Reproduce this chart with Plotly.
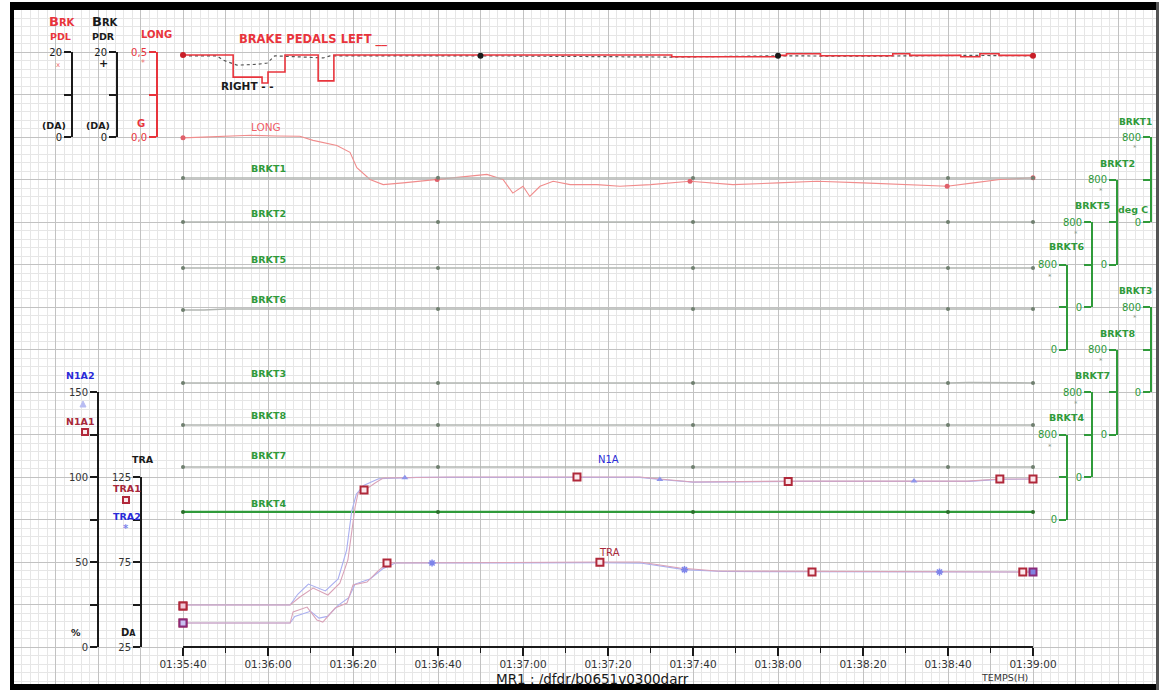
import plotly.graph_objects as go

W, H = 1162, 692

# ---------------- data ----------------
tick_seconds = [0, 20, 40, 60, 80, 100, 120, 140, 160, 180, 200]
time_labels = ["01:35:40", "01:36:00", "01:36:20", "01:36:40", "01:37:00", "01:37:20",
               "01:37:40", "01:38:00", "01:38:20", "01:38:40", "01:39:00"]

# brake pedal left (DA) - step trace
pdl_t = [0, 11.8, 18.6, 20.0, 24.0, 31.8, 35.5, 70, 115, 140, 142, 150, 167, 171, 183, 187.5, 192, 200]
pdl_v = [19.3, 14.1, 12.7, 15.3, 19.3, 13.2, 19.3, 19.3, 18.9, 19.2, 19.6, 19.1, 19.6, 19.2, 18.9, 19.6, 19.2, 19.1]
pdl_marker_t = [0, 200]
pdl_marker_v = [19.3, 19.1]

# brake pedal right (DA)
pdr_t = [0, 8, 9.4, 12.7, 17.4, 19.8, 21.6, 33, 34.6, 70, 115, 140, 160, 185, 200]
pdr_v = [19.1, 19.1, 18.1, 16.9, 17.1, 17.4, 19.1, 18.6, 19.1, 19.1, 18.8, 19.1, 19.0, 19.2, 19.1]
pdr_marker_t = [70, 140]
pdr_marker_v = [19.1, 19.1]

# longitudinal acceleration (G)
long_t = [0, 5, 11.1, 16, 22, 27.5, 30.6, 36.2, 39.3, 40.9, 44.0, 47.1, 51.8, 59.8, 67.5, 71.5,
          75.3, 77.6, 80.0, 81.6, 84.0, 87.1, 91.1, 97.4, 102.8, 110, 119.3, 129.4, 140, 149.2,
          160, 168.7, 179.8, 186, 192.2, 200]
long_v = [-0.005, 0.0, 0.006, 0.01, 0.006, 0.004, -0.02, -0.05, -0.09, -0.18, -0.25, -0.28, -0.27,
          -0.25, -0.23, -0.22, -0.25, -0.33, -0.29, -0.35, -0.29, -0.26, -0.28, -0.28, -0.29,
          -0.28, -0.26, -0.28, -0.27, -0.26, -0.27, -0.28, -0.29, -0.27, -0.25, -0.24]
long_marker_t = [0, 59.8, 119.3, 179.8, 200]
long_marker_v = [-0.005, -0.25, -0.26, -0.29, -0.24]

# brake temperatures (deg C)
brkt1_t = [0, 40, 60, 100, 120, 160, 180, 200]
brkt1_v = [414, 414, 416, 414, 414, 413, 414, 414]
brkt2_t = [0, 60, 65, 80, 85, 120, 180, 200]
brkt2_v = [400, 400, 396, 396, 400, 400, 400, 400]
brkt5_t = [0, 60, 64, 95, 100, 120, 180, 195, 200]
brkt5_v = [367, 367, 362, 362, 367, 367, 367, 362, 367]
brkt6_t = [0, 5, 10, 60, 120, 150, 180, 200]
brkt6_v = [372, 372, 381, 381, 381, 378, 381, 381]
brkt3_t = [0, 60, 80, 110, 120, 180, 185, 195, 200]
brkt3_v = [85, 85, 78, 78, 85, 85, 88, 85, 85]
brkt8_t = [0, 60, 70, 90, 120, 180, 200]
brkt8_v = [89, 89, 84, 84, 89, 89, 89]
brkt7_t = [0, 60, 120, 180, 200]
brkt7_v = [94, 94, 94, 94, 94]
brkt4_t = [0, 60, 120, 180, 200]
brkt4_v = [71, 71, 71, 71, 71]
brkt_marker_t = [0, 60, 120, 180, 200]

# engine N1 (%)
n1a1_t = [0, 25.2, 27.5, 30.6, 34.1, 36.9, 38.8, 40.0, 40.5, 41.2, 42.8, 45.2, 47.1, 62.8,
          107.5, 112.2, 120, 145.2, 184.5, 192.2, 200]
n1a1_v = [24.7, 24.7, 29.4, 34.7, 30.6, 37.6, 51.2, 74.7, 82.4, 90.6, 92.4, 96.5, 99.4, 100,
          100, 98.8, 97.1, 97.6, 97.6, 98.8, 98.8]
n1a2_t = [0, 25.2, 27.0, 29.5, 33.5, 36.5, 38.5, 39.7, 40.8, 42.5, 46, 55, 107.5, 112.2, 120,
          145, 185, 192, 200]
n1a2_v = [24.7, 24.7, 31, 37, 33, 40, 57, 80, 90, 95, 99, 99.8, 99.8, 98.5, 97.0, 97.4, 97.4,
          98.6, 98.8]
n1a1_marker_t = [0, 42.6, 92.7, 142.4, 192.2, 200]
n1a1_marker_v = [24.1, 92.4, 100, 97.4, 98.8, 98.8]
n1a2_marker_t = [52.2, 112.2, 172]
n1a2_marker_v = [99.6, 98.6, 97.6]

# throttle resolver angle (DA)
tra1_t = [0, 25.2, 25.9, 29.2, 31.5, 32.9, 35.8, 38.6, 40.0, 43.3, 45.6, 48.0, 98.1, 107.5,
          116.9, 125.6, 200]
tra1_v = [39.1, 39.1, 45.6, 48.5, 40.9, 39.7, 47.9, 50.9, 61.5, 63.2, 69.1, 74.4, 75.0, 75.0,
          71.5, 69.7, 69.1]
tra2_t = [0, 25.2, 26.3, 30, 32, 34, 36.5, 39, 40.5, 44, 47, 50, 98, 108, 118, 127, 200]
tra2_v = [39.1, 39.1, 43, 46, 42, 43, 49.5, 54, 62, 65, 71, 74.4, 74.6, 74.3, 70.5, 69.4, 69.1]
tra1_marker_t = [0, 48, 98.1, 148, 197.6]
tra1_marker_v = [39.1, 74.4, 74.9, 69.1, 69.1]
tra2_marker_t = [58.6, 118, 178, 200]
tra2_marker_v = [74.4, 70.5, 69.1, 69.1]

# ---------------- styling helpers ----------------
FONT = "DejaVu Sans"
RED = "#e8343c"
DARKRED = "#a8283a"
GREEN = "#2f9a3a"
BLUE = "#2a2ad8"
BLACK = "#1a1a1a"
TEXT = "#333333"
GRAYLINE = "#b2b6b2"
PINK = "#d9a3b8"
LBLUE = "#a9aef0"

X0, X1 = 183.0, 1033.0   # pixel columns of 01:35:40 and 01:39:00
PX_PER_S = (X1 - X0) / 200.0


def fx(p):
    return p / W


def fy(p):
    return 1 - p / H


def yrange(v_a, p_a, v_b, p_b):
    k = (p_a - p_b) / (v_b - v_a)
    return [v_a - (H - p_a) / k, v_a + p_a / k]


fig = go.Figure()
layout = {}

# background grid subplot (x, y) spanning the whole page
layout["xaxis"] = dict(domain=[0, 1], range=[(0 - X0) / PX_PER_S, (W - X0) / PX_PER_S],
                       showgrid=True, gridcolor="#c2c2c2", gridwidth=1, dtick=10, tick0=0,
                       showticklabels=False, zeroline=False, ticks="", showline=False,
                       minor=dict(dtick=2, tick0=0, showgrid=True, gridcolor="#e6e6e6", gridwidth=1),
                       anchor="y", fixedrange=True, automargin=False)
layout["yaxis"] = dict(domain=[0, 1], range=[H, 0], showgrid=True, gridcolor="#c2c2c2",
                       gridwidth=1, dtick=42.5, tick0=647, showticklabels=False, zeroline=False,
                       ticks="", showline=False,
                       minor=dict(dtick=8.5, tick0=647, showgrid=True, gridcolor="#e6e6e6", gridwidth=1),
                       anchor="x", fixedrange=True, automargin=False)
fig.add_trace(go.Scatter(x=[None], y=[None], xaxis="x", yaxis="y", showlegend=False,
                         hoverinfo="skip"))

# time axis
layout["xaxis2"] = dict(domain=[fx(X0), fx(X1)], range=[0, 200], anchor="free",
                        position=fy(647), showline=True, linecolor=BLACK, linewidth=1.5,
                        ticks="outside", ticklen=8, tickwidth=1.5, tickcolor=BLACK,
                        tickvals=tick_seconds, ticktext=time_labels, showgrid=False,
                        zeroline=False, tickfont=dict(family=FONT, size=10.5, color=TEXT),
                        minor=dict(ticks="outside", dtick=10, tick0=0, ticklen=5, tickwidth=1.2,
                                   tickcolor=BLACK, showgrid=False),
                        fixedrange=True, automargin=False)

# ---- data axes (invisible, full height) ----
data_axes = {
    "pdl": (0, 137, 20, 52),
    "long": (0, 137, 0.5, 52),
    "brkt1": (0, 222, 800, 137),
    "brkt2": (0, 264.5, 800, 179.5),
    "brkt5": (0, 307, 800, 222),
    "brkt6": (0, 349.5, 800, 264.5),
    "brkt3": (0, 392, 800, 307),
    "brkt8": (0, 434.5, 800, 349.5),
    "brkt7": (0, 477, 800, 392),
    "brkt4": (0, 519.5, 800, 434.5),
    "n1a": (0, 647, 150, 392),
    "tra": (25, 647, 125, 477),
}
axis_id = {}
n = 2
for key, (va, pa, vb, pb) in data_axes.items():
    axis_id[key] = "y%d" % n
    layout["yaxis%d" % n] = dict(domain=[0, 1], range=yrange(va, pa, vb, pb), anchor="x2",
                                 visible=False, fixedrange=True, automargin=False)
    n += 1

# ---- displayed bracket axes ----
disp_axes = [
    # (line x px, px of low, px of high, low, high, tickvals, ticktext, line colour, font colour)
    (72, 137, 52, 0, 20, [0, 10, 20], ["0", "", "20"], BLACK, BLACK),
    (117, 137, 52, 0, 20, [0, 10, 20], ["0", "", "20"], BLACK, BLACK),
    (157, 137, 52, 0, 0.5, [0, 0.25, 0.5], ["0,0", "", "0,5"], RED, RED),
    (98, 647, 392, 0, 150, [0, 25, 50, 75, 100, 125, 150], ["0", "", "50", "", "100", "", "150"], BLACK, TEXT),
    (141, 647, 477, 25, 125, [25, 50, 75, 100, 125], ["25", "", "75", "", "125"], BLACK, TEXT),
    (1067, 349.5, 264.5, 0, 800, [0, 400, 800], ["0", "", "800"], GREEN, GREEN),
    (1092, 307, 222, 0, 800, [0, 400, 800], ["0", "", "800"], GREEN, GREEN),
    (1117, 264.5, 179.5, 0, 800, [0, 400, 800], ["0", "", "800"], GREEN, GREEN),
    (1151, 222, 137, 0, 800, [0, 400, 800], ["0", "", "800"], GREEN, GREEN),
    (1067, 519.5, 434.5, 0, 800, [0, 400, 800], ["0", "", "800"], GREEN, GREEN),
    (1092, 477, 392, 0, 800, [0, 400, 800], ["0", "", "800"], GREEN, GREEN),
    (1117, 434.5, 349.5, 0, 800, [0, 400, 800], ["0", "", "800"], GREEN, GREEN),
    (1151, 392, 307, 0, 800, [0, 400, 800], ["0", "", "800"], GREEN, GREEN),
]
for (lx, plo, phi, vlo, vhi, tv, tt, lc, fc) in disp_axes:
    layout["yaxis%d" % n] = dict(domain=[fy(plo), fy(phi)], range=[vlo, vhi], anchor="free",
                                 position=fx(lx), side="left", showline=True, linecolor=lc,
                                 linewidth=2, ticks="outside", ticklen=7, tickwidth=2,
                                 tickcolor=lc, tickvals=tv, ticktext=tt, showgrid=False,
                                 zeroline=False, tickfont=dict(family=FONT, size=10, color=fc),
                                 fixedrange=True, automargin=False)
    fig.add_trace(go.Scatter(x=[None], y=[None], xaxis="x2", yaxis="y%d" % n,
                             showlegend=False, hoverinfo="skip"))
    n += 1


def add_line(t, v, key, color, width, dash="solid", shape="linear"):
    fig.add_trace(go.Scatter(x=t, y=v, xaxis="x2", yaxis=axis_id[key], mode="lines",
                             line=dict(color=color, width=width, dash=dash, shape=shape),
                             showlegend=False, hoverinfo="skip"))


def add_markers(t, v, key, color, size, symbol="circle", line_color=None, line_width=0):
    fig.add_trace(go.Scatter(x=t, y=v, xaxis="x2", yaxis=axis_id[key], mode="markers",
                             marker=dict(color=color, size=size, symbol=symbol,
                                         line=dict(color=line_color or color, width=line_width)),
                             cliponaxis=False, showlegend=False, hoverinfo="skip"))


# temperatures
brkt_series = [
    (brkt1_t, brkt1_v, "brkt1"), (brkt2_t, brkt2_v, "brkt2"), (brkt5_t, brkt5_v, "brkt5"),
    (brkt6_t, brkt6_v, "brkt6"), (brkt3_t, brkt3_v, "brkt3"), (brkt8_t, brkt8_v, "brkt8"),
    (brkt7_t, brkt7_v, "brkt7"),
]
for t, v, key in brkt_series:
    add_line(t, v, key, GRAYLINE, 1.6)
    mt = [x for x in t if x in brkt_marker_t]
    mv = [v[t.index(x)] for x in mt]
    add_markers(mt, mv, key, "#6f7f6f", 4)
add_line(brkt4_t, brkt4_v, "brkt4", GREEN, 2.2)
add_markers(brkt4_t, brkt4_v, "brkt4", "#2b6e2b", 4)

# longitudinal acceleration
add_line(long_t, long_v, "long", "#f08c8c", 1.1)
add_markers(long_marker_t, long_marker_v, "long", "#e0606a", 5)

# brake pedals
add_line(pdr_t, pdr_v, "pdl", "#555555", 1.2, dash="dot")
add_line(pdl_t, pdl_v, "pdl", RED, 1.6, shape="hv")
add_markers(pdl_marker_t, pdl_marker_v, "pdl", "#c81e28", 6)
add_markers(pdr_marker_t, pdr_marker_v, "pdl", BLACK, 6)

# N1 and TRA
add_line(n1a2_t, n1a2_v, "n1a", LBLUE, 1.1)
add_line(n1a1_t, n1a1_v, "n1a", PINK, 1.1)
add_line(tra2_t, tra2_v, "tra", LBLUE, 1.1)
add_line(tra1_t, tra1_v, "tra", PINK, 1.1)
add_markers(n1a2_marker_t, n1a2_marker_v, "n1a", "#8f95ea", 6, symbol="triangle-up")
add_markers(tra2_marker_t, tra2_marker_v, "tra", "#7d84ea", 6, symbol="asterisk-open",
            line_color="#7d84ea", line_width=1.5)
add_markers(n1a1_marker_t, n1a1_marker_v, "n1a", "#fbe8ec", 7, symbol="square",
            line_color="#b0283a", line_width=2)
add_markers(tra1_marker_t, tra1_marker_v, "tra", "#fbe8ec", 7, symbol="square",
            line_color="#b0283a", line_width=2)
add_markers([0], [39.1], "tra", "#c8c0f0", 7, symbol="square", line_color="#8a2a7a", line_width=2)
add_markers([0], [24.1], "n1a", "#f0c8d8", 7, symbol="square", line_color="#b0283a", line_width=2)
add_markers([200], [69.1], "tra", "#8080e0", 7, symbol="square", line_color="#8a2a7a", line_width=2)

# ---------------- text ----------------
ann = []


def txt(s, px, py, color=TEXT, size=10, xanchor="left", bold=False, family=FONT):
    if bold:
        s = "<b>%s</b>" % s
    ann.append(dict(text=s, x=fx(px), y=fy(py), xref="paper", yref="paper", xanchor=xanchor,
                    yanchor="middle", showarrow=False,
                    font=dict(color=color, size=size, family=family)))


# in-plot labels
txt("BRAKE PEDALS LEFT __", 237, 40, RED, 11.5, bold=True)
txt("RIGHT - -", 219, 86, BLACK, 10.5, bold=True)
txt("LONG", 249, 127, "#f06068", 10.5)
for lab, py in [("BRKT1", 168), ("BRKT2", 213), ("BRKT5", 259), ("BRKT6", 300),
                ("BRKT3", 373), ("BRKT8", 415), ("BRKT7", 455), ("BRKT4", 503)]:
    txt(lab, 249, py, GREEN, 9.5, bold=True)
txt("N1A", 596, 459, BLUE, 10)
txt("TRA", 597, 552, DARKRED, 10)

# left headers
big_b = "<span style='font-size:13px'>B</span>RK"
txt(big_b, 47, 22, RED, 10, bold=True)
txt("PDL", 48, 36, RED, 9.5, bold=True)
txt(big_b, 90, 22, BLACK, 10, bold=True)
txt("PDR", 90, 36, BLACK, 9.5, bold=True)
txt("LONG", 139, 35, RED, 10, bold=True)
txt("(DA)", 40, 125, BLACK, 9.5, bold=True)
txt("(DA)", 84, 125, BLACK, 9.5, bold=True)
txt("G", 141, 124, RED, 10, xanchor="center", bold=True)
txt("x", 58, 65, "#f07070", 7, xanchor="center")
txt("+", 103, 64, BLACK, 11, xanchor="center", bold=True)
txt("*", 143, 63, "#f07070", 8, xanchor="center")

txt("N1A2", 64, 375, BLUE, 9.5, bold=True)
txt("N1A1", 64, 421, DARKRED, 9.5, bold=True)
txt("TRA", 130, 459, BLACK, 9.5, bold=True)
txt("TRA1", 111, 488, DARKRED, 9.5, bold=True)
txt("TRA2", 111, 516, BLUE, 9.5, bold=True)
txt("*", 126, 528, "#7d84ea", 10, xanchor="center", bold=True)
txt("%", 76, 632, BLACK, 9.5, xanchor="center", bold=True)
txt("D<span style='font-size:8px'>A</span>", 128, 632, BLACK, 10, xanchor="center", bold=True)

# right headers
for lab, px, py in [("BRKT6", 1047, 247), ("BRKT5", 1073, 206), ("BRKT2", 1098, 163),
                    ("BRKT4", 1047, 417), ("BRKT7", 1073, 376), ("BRKT8", 1098, 333)]:
    txt(lab, px, py, GREEN, 9.5, bold=True)
txt("BRKT1", 1154, 122, GREEN, 9, xanchor="right", bold=True)
txt("BRKT3", 1154, 291, GREEN, 9, xanchor="right", bold=True)
txt("deg C", 1116, 209, GREEN, 9.5, bold=True)
for px, py in [(1050, 277), (1076, 234), (1101, 191), (1135, 148),
               (1050, 447), (1076, 404), (1101, 361), (1135, 318)]:
    txt("*", px, py, "#8a9a8a", 7, xanchor="center")

# bottom texts
txt("MR1 : /dfdr/b0651v0300darr", 691, 679, BLACK, 13.5, xanchor="right")
txt("TEMPS(H)", 1004, 677, TEXT, 9.5, xanchor="center")

# ---------------- shapes (legend glyphs + frame) ----------------
shapes = []


def rect_px(x0, y0, x1, y1, fill, line_color=None, line_width=0, layer="above"):
    shapes.append(dict(type="rect", xref="paper", yref="paper", x0=fx(x0), x1=fx(x1),
                       y0=fy(y1), y1=fy(y0), fillcolor=fill, layer=layer,
                       line=dict(color=line_color or fill, width=line_width)))


# legend squares / triangle
rect_px(82, 429, 88, 435, "#fbe8ec", "#b0283a", 2)
rect_px(123, 497, 129, 503, "#fbe8ec", "#b0283a", 2)
shapes.append(dict(type="path", xref="paper", yref="paper",
                   path="M %f %f L %f %f L %f %f Z" % (fx(80), fy(407), fx(86), fy(407), fx(83), fy(401)),
                   fillcolor="#b8bcf2", line=dict(color="#b8bcf2", width=1), layer="above"))

# outer white margins and black frame
rect_px(0, 0, 10, H, "white")
rect_px(1159, 0, W, H, "white")
rect_px(0, 690, W, H, "white")
rect_px(0, 0, W, 2, "white")
rect_px(10, 2, 1159, 10, "black")
rect_px(10, 2, 14, 690, "black")
rect_px(10, 684, 1159, 690, "black")
rect_px(1156, 2, 1159, 690, "#555555")

layout.update(dict(template="none", width=W, height=H, autosize=False,
                   margin=dict(l=0, r=0, t=0, b=0, pad=0),
                   paper_bgcolor="white", plot_bgcolor="rgba(0,0,0,0)", showlegend=False,
                   annotations=ann, shapes=shapes, font=dict(family=FONT)))
fig.update_layout(**layout)
fig.write_html("out.html")
